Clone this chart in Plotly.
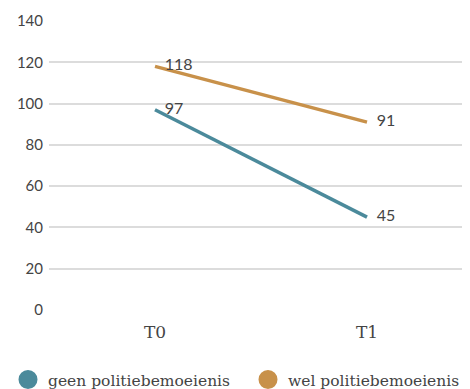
import plotly.graph_objects as go

# tijdstippen en aantallen
momenten = ["T0", "T1"]
geen = [97, 45]
wel = [118, 91]

kleur_geen = "#4b8a9b"
kleur_wel = "#c8914a"

fig = go.Figure()

series = [("geen politiebemoeienis", geen, kleur_geen, "legend"),
          ("wel politiebemoeienis", wel, kleur_wel, "legend2")]

for naam, waarden, kleur, leg in series:
    fig.add_trace(go.Scatter(
        x=momenten, y=waarden, mode="lines+markers+text",
        text=[str(v) for v in waarden], textposition="middle right",
        textfont=dict(family="Lato", size=16, color="#444444"),
        line=dict(color=kleur, width=3.5),
        marker=dict(size=14, color="rgba(0,0,0,0)"),
        showlegend=False, hoverinfo="skip"))
    # alleen voor de legenda (ronde bolletjes)
    fig.add_trace(go.Scatter(
        x=[None], y=[None], mode="markers", name=naam, legend=leg,
        marker=dict(color=kleur, size=16, symbol="circle",
                    line=dict(color=kleur, width=3))))

legend_font = dict(family="DejaVu Serif", size=15.5, color="#444444")

fig.update_layout(
    width=470, height=389,
    margin=dict(l=41, r=5, t=13, b=87),
    plot_bgcolor="white", paper_bgcolor="white",
    xaxis=dict(range=[-0.5, 1.5], showgrid=False, showline=False, zeroline=False,
               tickfont=dict(family="DejaVu Serif", size=17, color="#444444"),
               ticklabelstandoff=10, automargin=False),
    yaxis=dict(range=[0, 140], dtick=20, gridcolor="#dcdcdc", gridwidth=1.5,
               zeroline=False, showline=False, automargin=False,
               tickfont=dict(family="Lato", size=15, color="#444444"),
               ticklabelstandoff=5),
    legend=dict(orientation="h", x=0, y=17 / 389, xref="container", yref="container",
                xanchor="left", yanchor="middle", font=legend_font),
    legend2=dict(orientation="h", x=240 / 470, y=17 / 389, xref="container", yref="container",
                 xanchor="left", yanchor="middle", font=legend_font),
)

fig.write_html("out.html")
